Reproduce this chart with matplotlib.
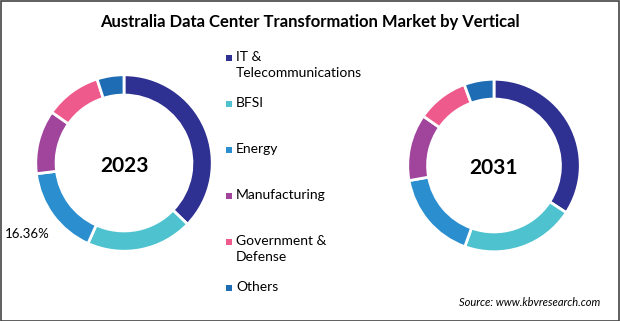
import matplotlib.pyplot as plt
from matplotlib.patches import Rectangle

categories = ["IT &\nTelecommunications", "BFSI", "Energy", "Manufacturing",
              "Government &\nDefense", "Others"]
share_2023 = [37.2, 19.5, 16.36, 11.7, 10.3, 4.94]
share_2031 = [34.2, 21.3, 16.7, 12.5, 9.7, 5.6]
colors = ["#2E3192", "#4EC3CF", "#2A8ECF", "#A0449C", "#EE5A8C", "#1E6DB4"]

W, H = 620, 321
fig = plt.figure(figsize=(W / 100, H / 100), dpi=100)

def donut(cx, cy, r, values, year, fs):
    ax = fig.add_axes([(cx - r) / W, (H - cy - r) / H, 2 * r / W, 2 * r / H])
    ax.pie(values, colors=colors, startangle=90, counterclock=False,
           radius=1, wedgeprops=dict(width=0.23, edgecolor="white", linewidth=2))
    ax.set_xlim(-1.02, 1.02)
    ax.set_ylim(-1.02, 1.02)
    ax.set_aspect("equal")
    ax.axis("off")
    ax.text(0, -0.03, year, ha="center", va="center", fontsize=fs,
            fontweight="bold", family="Lato")
    return ax

donut(124, 163, 90, share_2023, "2023", 15)
donut(494, 165.5, 88, share_2031, "2031", 15)

# label for the energy share in 2023
fig.text(5 / W, 1 - 234 / H, "16.36%", ha="left", va="center", fontsize=9.5,
         family="Lato")

# legend
for i, (lab, c) in enumerate(zip(categories, colors)):
    y = 58 + i * 46
    fig.patches.append(Rectangle((226 / W, 1 - (y + 3) / H), 6 / W, 6 / H,
                                 facecolor=c, transform=fig.transFigure))
    fig.text(236 / W, 1 - (y - 7) / H, lab, ha="left", va="top", fontsize=10,
             family="Lato", linespacing=1.4)

fig.text(310 / W, 1 - 22 / H,
         "Australia Data Center Transformation Market by Vertical",
         ha="center", va="center", fontsize=12, fontweight="bold", family="Lato")
fig.text(600 / W, 1 - 302 / H, "Source: www.kbvresearch.com", ha="right",
         va="center", fontsize=8, style="italic", family="Lato")

fig.patches.append(Rectangle((0.5 / W, 0.5 / H), 1 - 1.5 / W, 1 - 1.5 / H,
                             fill=False, edgecolor="#444444", linewidth=1.2,
                             transform=fig.transFigure))

fig.savefig("out.png", dpi=100)
